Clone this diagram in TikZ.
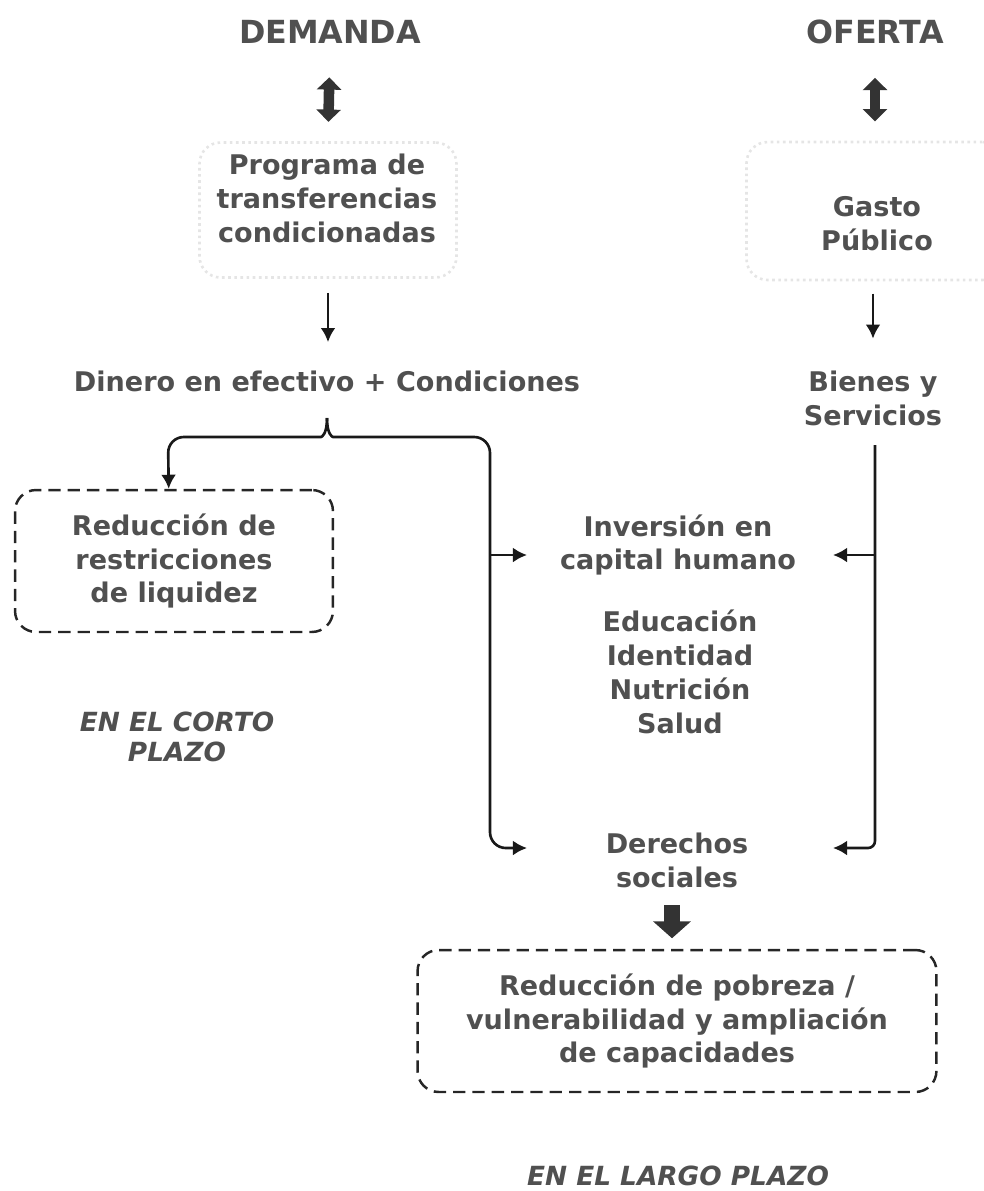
\documentclass[tikz,border=0pt]{standalone}
\usepackage{fontspec}
\setmainfont{DejaVu Sans}
\usetikzlibrary{arrows.meta, positioning, calc}
\definecolor{txtgray}{HTML}{505050}
\definecolor{arrgray}{HTML}{333333}

\tikzset{
  lbl/.style={text=txtgray, font=\fontsize{15.4}{19.3}\selectfont\bfseries, align=center, inner sep=0pt},
  head/.style={text=txtgray, font=\fontsize{18.1}{21}\selectfont\bfseries, inner sep=0pt},
  term/.style={text=txtgray, font=\fontsize{15}{17}\selectfont\bfseries\itshape, align=center, inner sep=0pt},
  dashbox/.style={draw=black!85, dashed, dash pattern=on 7pt off 4pt, line width=1.4pt, rounded corners=12pt},
  faintbox/.style={draw=black!10, dotted, line width=1.5pt, rounded corners=12pt},
  conn/.style={line width=1.5pt, black!90, -{Latex[length=8pt,width=8.5pt]}},
  dblarrow/.style={line width=6pt, arrgray, {Triangle[length=7pt,width=13.6pt]}-{Triangle[length=7pt,width=13.6pt]}},
  fatarrow/.style={line width=9pt, arrgray, -{Triangle[length=9.6pt,width=21pt]}},
}

\begin{document}
\begin{tikzpicture}[x=0.02cm, y=-0.02cm]
    \useasboundingbox (0,0) rectangle (984,1191);

    % headings
    \node[head] (dem) at (330,32) {DEMANDA};
    \node[head] (ofe) at (875,32) {OFERTA};

    % faint boxes at the top
    \node[faintbox, minimum width=5.14cm, minimum height=2.7cm] (progbox) at (328,210) {};
    \node[faintbox, minimum width=5.14cm, minimum height=2.76cm] (gastobox) at (875,211) {};
    \node[lbl] (prog) at (327,198) {Programa de\\transferencias\\condicionadas};
    \node[lbl] (gasto) at (877,224) {Gasto\\Público};

    \draw[dblarrow, shorten <=19pt, shorten >=11pt] (dem.south) -- (progbox.north);
    \draw[dblarrow, shorten <=19pt, shorten >=11pt] (ofe.south -| gastobox.north) -- (gastobox.north);

    \node[lbl] (dinero) at (327,381) {Dinero en efectivo + Condiciones};
    \node[lbl] (bienes) at (873,398) {Bienes y\\Servicios};

    \draw[conn, shorten <=8pt, shorten >=16pt] (progbox.south) -- (progbox.south |- dinero.north);
    \draw[conn, shorten <=7pt, shorten >=18pt] (gastobox.south -| bienes.north) -- (bienes.north);

    % short term
    \node[dashbox, lbl, minimum width=6.36cm, minimum height=2.84cm] (liq) at (174,561) {Reducci\'on de\\restricciones\\de liquidez};
    \node[term] (corto) at (177,737) {EN EL CORTO\\PLAZO};

    % long term
    \node[lbl] (inv) at (678,545) {Inversi\'on en\\capital humano};
    \node[lbl] (comps) at (680,672) {Educaci\'on\\Identidad\\Nutrici\'on\\Salud};
    \node[lbl] (der) at (677,860) {Derechos\\sociales};
    \node[dashbox, lbl, minimum width=10.38cm, minimum height=2.84cm] (pob) at (677,1021) {Reducci\'on de pobreza /\\vulnerabilidad y ampliaci\'on\\de capacidades};
    \node[term] (largo) at (678,1176) {EN EL LARGO PLAZO};

    % brace and branches
    \coordinate (bt) at (327,418);
    \coordinate (invL) at (527,555);
    \coordinate (derL) at (527,848);
    \coordinate (invR) at (833,555);
    \coordinate (derR) at (833,848);
    \coordinate (trunkR) at (875,445);

    \draw[conn, rounded corners=9pt] (bt) .. controls (327,434) and (322,437) .. (305,437) -- (168,437) -- ([xshift=-3pt]liq.north);
    \draw[conn, rounded corners=9pt] (bt) .. controls (327,434) and (332,437) .. (349,437) -- (490,437) |- (derL);
    \draw[conn] (490,555) -- (invL);

    \draw[conn, rounded corners=4pt] (trunkR) |- (derR);
    \draw[conn] (875,555) -- (invR);

    \draw[fatarrow, shorten <=10pt, shorten >=6pt] (der.south -| 672,0) -- (pob.north -| 672,0);
\end{tikzpicture}
\end{document}
